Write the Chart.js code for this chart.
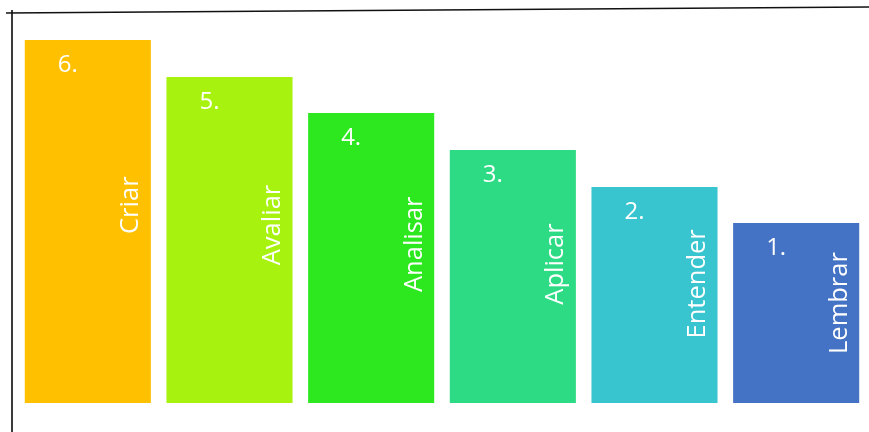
<!DOCTYPE html>
<html>
<head>
<meta charset="utf-8">
<script src="https://cdn.jsdelivr.net/npm/chart.js@4"></script>
<style>
  html, body { margin: 0; padding: 0; background: #ffffff; }
  canvas { display: block; }
</style>
</head>
<body>
<canvas id="c" width="869" height="432"></canvas>
<script>
const categories = ['Criar', 'Avaliar', 'Analisar', 'Aplicar', 'Entender', 'Lembrar'];
const levels = ['6.', '5.', '4.', '3.', '2.', '1.'];
const values = [10, 8.98, 7.99, 6.97, 5.95, 4.96];
const colors = ['#FFC000', '#A7F20F', '#2DE81F', '#2CDB83', '#38C5CF', '#4472C4'];

const labelPlugin = {
  id: 'barLabels',
  afterDatasetsDraw(chart) {
    const ctx = chart.ctx;
    const meta = chart.getDatasetMeta(0);
    ctx.save();
    ctx.fillStyle = '#ffffff';
    meta.data.forEach((bar, i) => {
      const left = bar.x - bar.width / 2;
      const right = bar.x + bar.width / 2;
      const top = bar.y;
      const bottom = bar.base;
      const h = bottom - top;
      // level number
      ctx.font = '24px "Open Sans", "Noto Sans", sans-serif';
      ctx.textAlign = 'left';
      ctx.textBaseline = 'alphabetic';
      ctx.fillText(levels[i], left + 33, top + 32);
      // rotated category name
      ctx.font = '25.5px "Open Sans", "Noto Sans", sans-serif';
      const cy = (top + bottom) / 2 - (h * 0.035 + 3.6);
      ctx.save();
      ctx.translate(right - 12.5, cy);
      ctx.rotate(-Math.PI / 2);
      ctx.textAlign = 'center';
      ctx.fillText(categories[i], 0, 0);
      ctx.restore();
    });
    ctx.restore();
  },
  afterDraw(chart) {
    const ctx = chart.ctx;
    ctx.save();
    ctx.strokeStyle = '#3a3a3a';
    ctx.lineWidth = 2;
    ctx.beginPath();
    ctx.moveTo(12, 10);
    ctx.lineTo(12, 432);
    ctx.stroke();
    ctx.strokeStyle = '#111111';
    ctx.lineWidth = 1.5;
    ctx.beginPath();
    ctx.moveTo(6, 13);
    ctx.lineTo(869, 7);
    ctx.stroke();
    ctx.restore();
  }
};

new Chart(document.getElementById('c'), {
  type: 'bar',
  data: {
    labels: categories,
    datasets: [{
      data: values,
      backgroundColor: colors,
      borderWidth: 0,
      categoryPercentage: 1,
      barPercentage: 0.89
    }]
  },
  options: {
    responsive: false,
    devicePixelRatio: 1,
    animation: false,
    layout: { padding: { left: 17, right: 2, top: 40, bottom: 29 } },
    plugins: { legend: { display: false }, tooltip: { enabled: false } },
    scales: {
      x: { display: false },
      y: { display: false, min: 0, max: 10 }
    }
  },
  plugins: [labelPlugin]
});
</script>
</body>
</html>
